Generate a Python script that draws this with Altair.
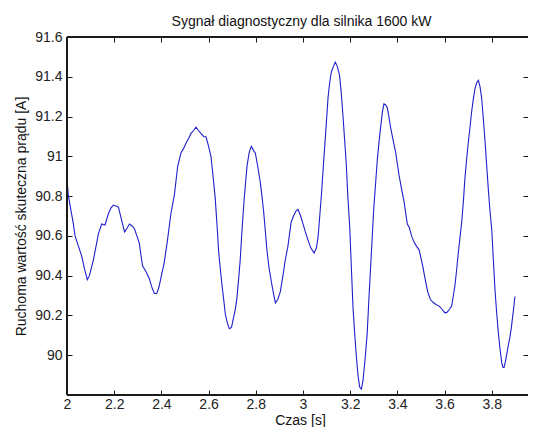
import altair as alt
import pandas as pd

t = [2.000, 2.005, 2.015, 2.027, 2.034, 2.048, 2.062, 2.075, 2.086, 2.095,
     2.112, 2.125, 2.133, 2.147, 2.161, 2.175, 2.186, 2.196, 2.207, 2.218,
     2.229, 2.244, 2.255, 2.265, 2.276, 2.286, 2.296, 2.306, 2.320, 2.335,
     2.349, 2.360, 2.370, 2.380, 2.390, 2.400, 2.412, 2.426, 2.440, 2.455,
     2.469, 2.483, 2.494, 2.504, 2.515, 2.525, 2.536, 2.547, 2.557, 2.568,
     2.579, 2.589, 2.600, 2.610, 2.619, 2.628, 2.636, 2.643, 2.650, 2.657,
     2.664, 2.671, 2.680, 2.688, 2.697, 2.706, 2.713, 2.720, 2.727, 2.734,
     2.741, 2.749, 2.756, 2.763, 2.772, 2.781, 2.790, 2.798, 2.808, 2.819,
     2.826, 2.833, 2.840, 2.847, 2.856, 2.866, 2.875, 2.883, 2.893, 2.904,
     2.915, 2.925, 2.936, 2.943, 2.950, 2.960, 2.970, 2.979, 2.990, 3.000,
     3.010, 3.021, 3.033, 3.047, 3.057, 3.064, 3.071, 3.078, 3.085, 3.092,
     3.099, 3.106, 3.113, 3.120, 3.128, 3.137, 3.146, 3.155, 3.162, 3.169,
     3.176, 3.183, 3.190, 3.198, 3.205, 3.212, 3.219, 3.226, 3.233, 3.240,
     3.247, 3.254, 3.263, 3.272, 3.280, 3.290, 3.300, 3.308, 3.315, 3.322,
     3.329, 3.336, 3.343, 3.350, 3.357, 3.364, 3.371, 3.382, 3.393, 3.400,
     3.407, 3.417, 3.428, 3.436, 3.442, 3.450, 3.460, 3.470, 3.480, 3.492,
     3.507, 3.518, 3.528, 3.540, 3.552, 3.563, 3.577, 3.590, 3.600, 3.609,
     3.620, 3.630, 3.644, 3.651, 3.658, 3.666, 3.673, 3.680, 3.686, 3.693,
     3.700, 3.708, 3.715, 3.722, 3.729, 3.736, 3.743, 3.750, 3.757, 3.764,
     3.771, 3.778, 3.785, 3.792, 3.800, 3.807, 3.814, 3.821, 3.828, 3.835,
     3.842, 3.847, 3.852, 3.858, 3.863, 3.870, 3.877, 3.883, 3.888, 3.893,
     3.898]

current = [90.89, 90.81, 90.74, 90.66, 90.60, 90.55, 90.50, 90.43, 90.38, 90.40,
           90.48, 90.56, 90.61, 90.66, 90.655, 90.71, 90.74, 90.755, 90.75, 90.745,
           90.69, 90.62, 90.64, 90.66, 90.65, 90.636, 90.60, 90.565, 90.45, 90.42,
           90.385, 90.34, 90.31, 90.31, 90.344, 90.40, 90.466, 90.58, 90.71, 90.806,
           90.95, 91.017, 91.04, 91.066, 91.09, 91.114, 91.13, 91.147, 91.13, 91.114,
           91.10, 91.098, 91.05, 91.00, 90.90, 90.79, 90.65, 90.514, 90.43, 90.35,
           90.28, 90.206, 90.16, 90.133, 90.14, 90.19, 90.23, 90.287, 90.38, 90.48,
           90.62, 90.758, 90.86, 90.952, 91.02, 91.05, 91.03, 91.017, 90.95, 90.87,
           90.80, 90.725, 90.63, 90.53, 90.44, 90.368, 90.31, 90.263, 90.28, 90.32,
           90.40, 90.48, 90.547, 90.61, 90.67, 90.70, 90.725, 90.733, 90.70, 90.66,
           90.62, 90.58, 90.54, 90.514, 90.54, 90.596, 90.70, 90.806, 90.93, 91.05,
           91.17, 91.293, 91.37, 91.423, 91.45, 91.474, 91.45, 91.406, 91.32, 91.21,
           91.09, 90.968, 90.80, 90.644, 90.44, 90.238, 90.11, 89.995, 89.90, 89.84,
           89.83, 89.87, 89.98, 90.11, 90.30, 90.52, 90.743, 90.87, 90.986, 91.07,
           91.147, 91.22, 91.264, 91.26, 91.244, 91.20, 91.147, 91.08, 91.017, 90.96,
           90.904, 90.84, 90.774, 90.708, 90.66, 90.644, 90.60, 90.57, 90.55, 90.53,
           90.45, 90.38, 90.32, 90.28, 90.265, 90.255, 90.247, 90.23, 90.214, 90.214,
           90.23, 90.247, 90.352, 90.43, 90.514, 90.60, 90.676, 90.78, 90.888, 90.98,
           91.066, 91.15, 91.228, 91.29, 91.342, 91.37, 91.382, 91.35, 91.293, 91.19,
           91.082, 90.96, 90.839, 90.73, 90.628, 90.47, 90.32, 90.21, 90.11, 90.03,
           89.963, 89.94, 89.939, 89.97, 90.003, 90.05, 90.092, 90.14, 90.19, 90.24,
           90.295]

x_ticks = [2.0, 2.2, 2.4, 2.6, 2.8, 3.0, 3.2, 3.4, 3.6, 3.8, 4.0]
y_ticks = [90.0, 90.2, 90.4, 90.6, 90.8, 91.0, 91.2, 91.4, 91.6]
x_domain = [2.0, 3.9534]   # the right frame of the original lies just past the picture
y_domain = [89.8, 91.6]

title_text = "Sygnał diagnostyczny dla silnika 1600 kW"
x_title = "Czas [s]"
y_title = "Ruchoma wartość skuteczna prądu [A]"

df = pd.DataFrame({"t": t, "v": current})

FONT = "Liberation Sans"
W, H = 461, 358
INK = "#1a1a1a"
FS = 14

x_scale = alt.Scale(domain=x_domain, nice=False, zero=False)
y_scale = alt.Scale(domain=y_domain, nice=False, zero=False)

common_axis = dict(grid=False, domain=False, tickSize=5, offset=-5,
                   tickColor=INK, labelColor="#222222",
                   labelFont=FONT, labelFontSize=FS, titleFont=FONT,
                   titleFontSize=FS, titleFontWeight="normal",
                   titleColor="#111111", format=".1~f")

main = alt.Chart(df).mark_line(color="#1f1fcc", strokeWidth=1.1).encode(
    x=alt.X("t:Q", scale=x_scale,
            axis=alt.Axis(orient="bottom", values=x_ticks, title=x_title,
                          labelPadding=2, labelFlush=False,
                          titleY=34, titleX=233, titleBaseline="alphabetic",
                          **common_axis)),
    y=alt.Y("v:Q", scale=y_scale,
            axis=alt.Axis(orient="left", values=y_ticks, title=y_title,
                          labelPadding=5, labelFlush=False,
                          titleX=-47, titleBaseline="alphabetic",
                          **common_axis)),
)

# top and right axes: inward ticks only; the top axis also carries the chart title
ticks_other = alt.Chart(df).mark_line(strokeOpacity=0).encode(
    x=alt.X("t:Q", scale=x_scale,
            axis=alt.Axis(orient="top", values=x_ticks, title=title_text,
                          labels=False, titleY=-16.5, titleX=234,
                          titleBaseline="alphabetic", **common_axis)),
    y=alt.Y("v:Q", scale=y_scale,
            axis=alt.Axis(orient="right", values=y_ticks, title=None,
                          labels=False, **common_axis)),
)

frame_left = alt.Chart(df).mark_rule(color=INK, strokeWidth=1).encode(
    x=alt.XDatum(x_domain[0], scale=x_scale, axis=None)
)
frame_bottom = alt.Chart(df).mark_rule(color=INK, strokeWidth=1).encode(
    y=alt.YDatum(y_domain[0], scale=y_scale, axis=None)
)
frame_top = alt.Chart(df).mark_rule(color=INK, strokeWidth=1).encode(
    y=alt.YDatum(y_domain[1], scale=y_scale, axis=None)
)

chart = alt.layer(main, ticks_other, frame_left, frame_bottom, frame_top).resolve_axis(
    x="independent", y="independent"
).properties(
    width=W, height=H,
    autosize=alt.AutoSizeParams(type="none"),
    padding={"left": 59, "top": 29, "right": 0, "bottom": 32},
    background="white",
).configure_view(stroke=None)

chart.save("out.html", embed_options={"renderer": "svg", "actions": False})
